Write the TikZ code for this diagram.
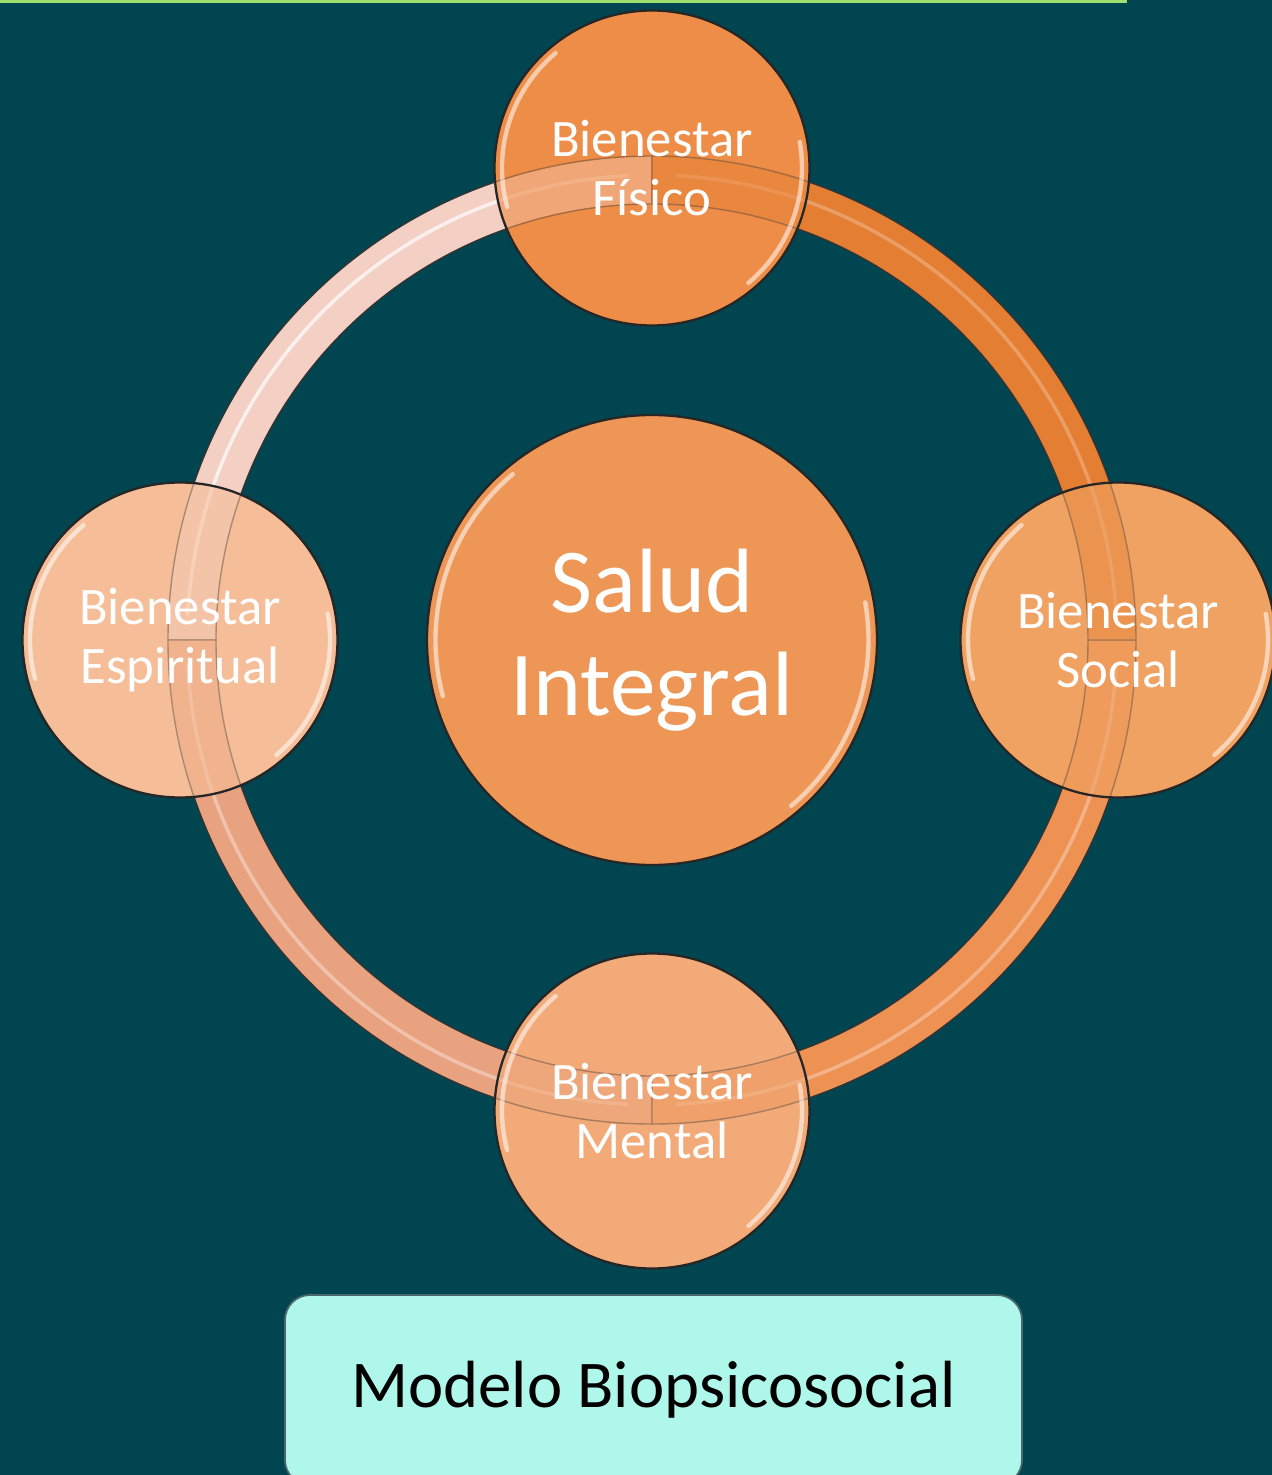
\documentclass[tikz,border=0pt]{standalone}
\usepackage{fontspec}
\setmainfont{Carlito}

\definecolor{bgteal}{RGB}{1,69,80}
\definecolor{topgreen}{RGB}{160,224,112}
\definecolor{ringA}{RGB}{244,208,196}
\definecolor{ringB}{RGB}{232,162,128}
\definecolor{ringC}{RGB}{238,146,84}
\definecolor{ringD}{RGB}{228,126,50}
\definecolor{fisicoC}{RGB}{238,141,72}
\definecolor{saludC}{RGB}{238,150,86}
\definecolor{espiritualC}{RGB}{245,190,152}
\definecolor{socialC}{RGB}{240,162,98}
\definecolor{mentalC}{RGB}{242,170,120}
\definecolor{modeloC}{RGB}{175,247,234}

\tikzset{
    bubble/.style={circle, draw=black!85, line width=1.3pt, minimum size=6.3cm,
        inner sep=0pt, align=center, text=white, fill opacity=0.62, text opacity=1,
        font=\fontsize{30}{34}\selectfont},
    gloss/.style={line width=2.5pt, color=white, opacity=0.55, line cap=round},
}

\begin{document}
\begin{tikzpicture}
        % Background:
        \clip (-13.04, 12.8) rectangle (12.4, -16.7);
        \fill[color=bgteal] (-13.04, 12.8) rectangle (12.4, -16.7);
        \fill[color=topgreen] (-13.04, 12.8) rectangle (9.5, 12.73);

        % Base of the outer circles (under the ring):
        \foreach \x/\y/\c in {0/9.44/fisicoC, -9.44/0/espiritualC, 9.32/0/socialC, 0/-9.42/mentalC}
            \fill[color=\c] (\x, \y) circle (3.15);

        % Ring:
        \foreach \a/\c in {90/ringA, 180/ringB, 270/ringC, 0/ringD}
            \draw[line width=0.8pt, color=black!80, fill=\c] (\a:9.68) arc (\a:\a+90:9.68)
                -- (\a+90:8.72) arc (\a+90:\a:8.72) -- cycle;
        \foreach \a/\o in {90/0.7, 180/0.35, 270/0.3, 0/0.25}
            \draw[line width=2pt, color=white, opacity=\o] (\a+3:9.3) arc (\a+3:\a+87:9.3);

        % Circles:
        \node[bubble, fill=fisicoC] (fisico) at (0, 9.44) {Bienestar\\Físico};
        \node[bubble, fill=espiritualC] (espiritual) at (-9.44, 0) {Bienestar\\Espiritual};
        \node[bubble, fill=socialC] (social) at (9.32, 0) {Bienestar\\Social};
        \node[bubble, fill=mentalC] (mental) at (0, -9.42) {Bienestar\\Mental};
        \node[bubble, fill=saludC, fill opacity=1, minimum size=9cm, font=\fontsize{52}{59}\selectfont] (salud) at (0, 0) {Salud\\Integral};

        % Gloss on the circles:
        \foreach \n/\r in {fisico/3.0, espiritual/3.0, social/3.0, mental/3.0, salud/4.33}
        {
            \draw[gloss] (\n.center) ++(130:\r) arc (130:195:\r);
            \draw[gloss] (\n.center) ++(-50:\r) arc (-50:10:\r);
        }

        % Label box:
        \node[draw=gray!60!bgteal, line width=1pt, fill=modeloC, rounded corners=0.5cm,
              minimum width=14.74cm, minimum height=3.8cm,
              font=\fontsize{38}{42}\selectfont] (modelo) at (0.03, -15.0) {Modelo Biopsicosocial};
\end{tikzpicture}
\end{document}
